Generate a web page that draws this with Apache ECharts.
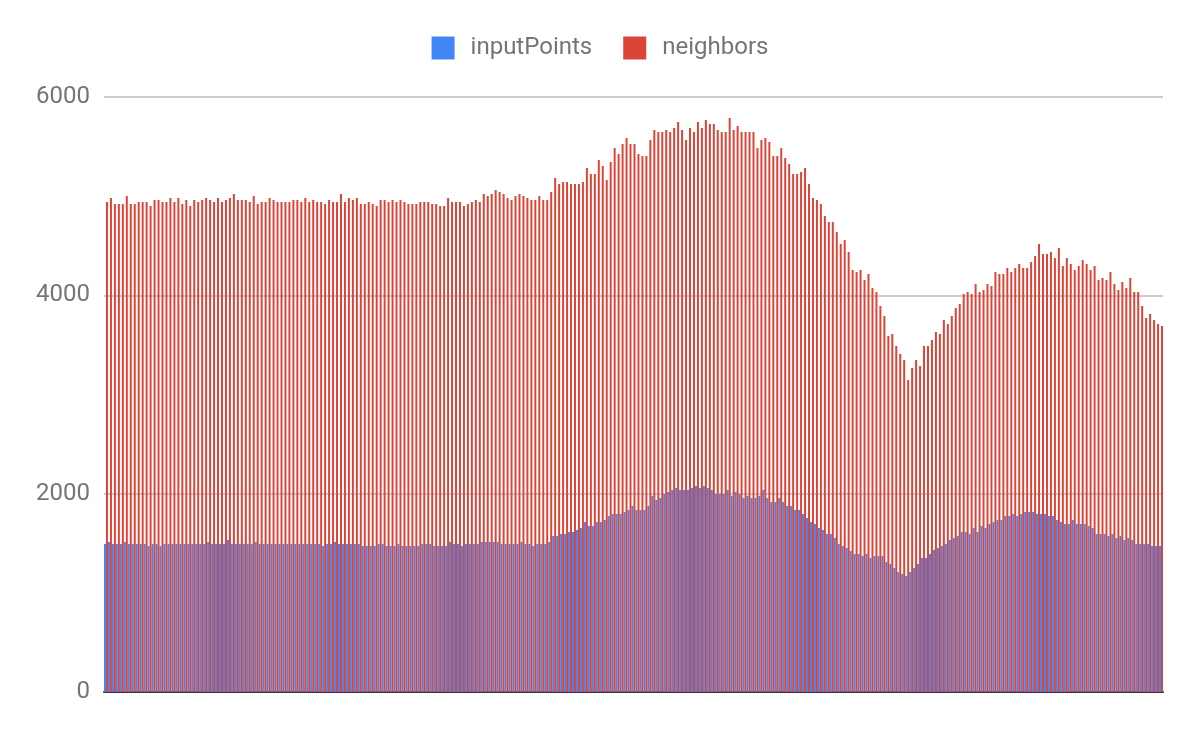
<!DOCTYPE html>
<html>
<head>
<meta charset="utf-8">
<script src="https://cdn.jsdelivr.net/npm/echarts@6/dist/echarts.min.js"></script>
<style>html,body{margin:0;padding:0;background:#fff}#chart{width:1200px;height:742px}</style>
</head>
<body>
<div id="chart"></div>
<script>
const seriesNames = ['inputPoints', 'neighbors'];
const yTicks = [0, 2000, 4000, 6000];

const inputPoints = [
1492,1513,1492,1492,1492,1513,1492,1492,1492,1492,
1492,1472,1492,1492,1472,1492,1492,1492,1492,1492,
1492,1492,1492,1492,1492,1492,1513,1492,1492,1492,
1492,1533,1492,1492,1492,1492,1492,1492,1513,1492,
1492,1492,1492,1492,1492,1492,1492,1492,1492,1492,
1492,1492,1492,1492,1492,1472,1492,1492,1513,1492,
1492,1492,1492,1492,1492,1472,1472,1472,1472,1492,
1492,1472,1472,1472,1492,1472,1472,1472,1472,1472,
1492,1492,1492,1472,1472,1472,1472,1513,1492,1492,
1472,1492,1492,1492,1492,1513,1513,1513,1513,1513,
1492,1492,1492,1492,1492,1513,1492,1492,1472,1492,
1492,1492,1513,1573,1573,1593,1593,1613,1613,1634,
1654,1714,1674,1674,1714,1714,1734,1775,1795,1795,
1795,1815,1835,1876,1835,1835,1835,1876,1976,1936,
1956,1997,2017,2037,2057,2037,2037,2037,2057,2077,
2057,2077,2057,2037,1997,1997,1997,2037,1976,2017,
1997,1956,1976,1956,1956,1976,2037,1956,1916,1916,
1956,1916,1876,1876,1835,1835,1795,1755,1714,
1694,1654,1634,1593,1593,1553,1492,1472,1452,1422,
1392,1392,1371,1392,1351,1371,1371,1371,1311,1291,
1250,1210,1190,1170,1210,1250,1291,1351,1351,1392,
1432,1452,1472,1492,1533,1553,1573,1613,1613,1593,
1654,1613,1674,1654,1694,1714,1734,1734,1775,1775,
1795,1775,1795,1815,1815,1815,1795,1795,1795,1775,
1775,1734,1714,1694,1694,1734,1694,1694,1694,1674,
1654,1593,1593,1593,1573,1593,1553,1573,1533,1553,
1533,1492,1492,1492,1492,1472,1472,1472
];

const neighbors = [
4941,4981,4921,4921,4921,5002,4921,4921,4941,4941,
4941,4901,4961,4961,4941,4941,4981,4941,4981,4921,
4961,4901,4961,4941,4961,4981,4961,4941,4981,4941,
4961,4981,5022,4961,4961,4961,4941,5002,4921,4941,
4941,4981,4961,4941,4941,4941,4941,4961,4961,4941,
4981,4941,4961,4941,4941,4921,4961,4941,4941,5022,
4941,4981,4961,4981,4921,4921,4941,4921,4901,4961,
4961,4941,4961,4941,4961,4941,4921,4921,4921,4941,
4941,4941,4921,4921,4901,4901,4981,4941,4941,4941,
4901,4921,4941,4961,4941,5022,5002,5022,
5062,5042,5022,4981,4961,5002,5022,5002,4981,4961,
4961,5002,4961,4961,5042,5183,5123,5143,5143,5123,
5123,5123,5143,5284,5224,5224,5365,5304,5163,5345,
5486,5425,5526,5587,5526,5526,5425,5405,5405,5566,
5667,5647,5647,5667,5647,5687,5748,5667,5566,5687,
5647,5748,5687,5768,5728,5728,5667,5647,5647,5788,
5667,5708,5647,5647,5647,5647,5486,5566,5587,5546,
5405,5405,5486,5385,5324,5224,5224,5244,5284,5123,
4981,
4961,4921,4800,4739,4739,4639,4518,4558,4437,
4255,4235,4255,4155,4215,4074,4034,3892,3792,3590,
3610,3489,3408,3348,3146,3267,3348,3287,3489,3489,
3550,3630,3610,3751,3711,3792,3872,3913,4013,4034,
4013,4114,4034,4054,4114,4094,4235,4215,4215,4276,
4235,4276,4316,4276,4276,4336,4397,4518,4417,4417,
4437,4376,4477,4296,4376,4316,4255,4296,4356,4316,
4255,4296,4155,4175,4155,4235,4114,4054,4134,4074,
4175,4034,4034,3892,3771,3812,3751,3711,3691
];

const categories = neighbors.map((_, i) => String(i + 1));

const chart = echarts.init(document.getElementById('chart'), null, {renderer: 'canvas'});
chart.setOption({
  animation: false,
  backgroundColor: '#ffffff',
  legend: {
    data: seriesNames,
    top: 36,
    left: 'center',
    icon: 'rect',
    itemWidth: 23,
    itemHeight: 23,
    itemGap: 31,
    padding: 0,
    textStyle: {fontFamily: 'Roboto', fontSize: 24, color: '#757575', padding: [0, 0, 0, 11]}
  },
  grid: {left: 104, right: 37, top: 97, bottom: 50},
  xAxis: {
    type: 'category',
    data: categories,
    axisLine: {lineStyle: {color: '#333333', width: 2}},
    axisTick: {show: false},
    axisLabel: {show: false},
    splitLine: {show: false}
  },
  yAxis: {
    type: 'value',
    min: yTicks[0],
    max: yTicks[yTicks.length - 1],
    interval: yTicks[1] - yTicks[0],
    axisLine: {show: false},
    axisTick: {show: false},
    axisLabel: {fontFamily: 'Roboto', fontSize: 24, color: '#757575', margin: 14, formatter: v => String(v)},
    splitLine: {lineStyle: {color: '#cccccc', width: 2}}
  },
  series: [
    {name: seriesNames[0], type: 'bar', data: inputPoints, itemStyle: {color: '#4285f4'}, barGap: '0%', barCategoryGap: '0%'},
    {name: seriesNames[1], type: 'bar', data: neighbors, itemStyle: {color: '#db4437'}, barGap: '0%', barCategoryGap: '0%'}
  ]
});
</script>
</body>
</html>
